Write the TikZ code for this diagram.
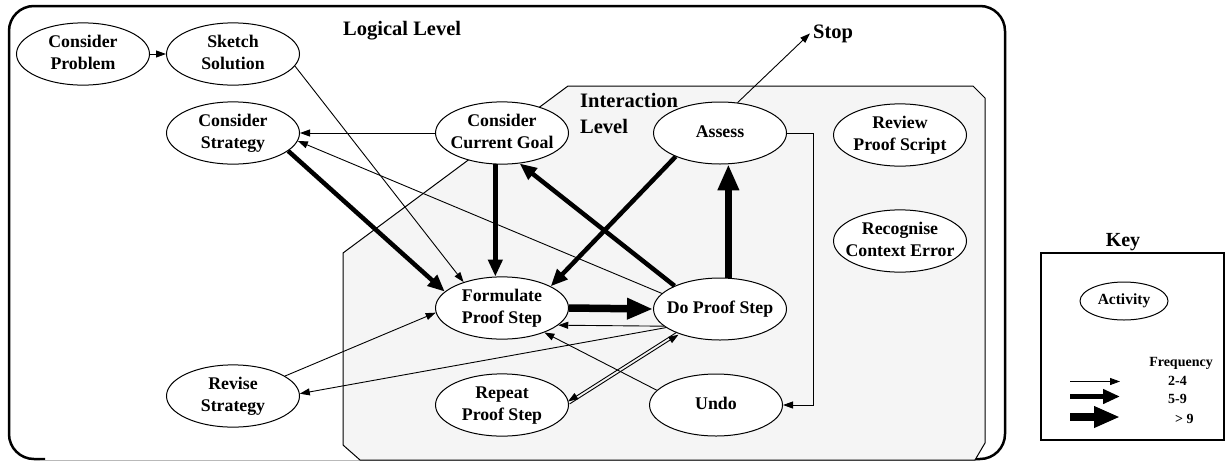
\documentclass[tikz,border=0pt]{standalone}
\usepackage{fontspec}
\setmainfont{Liberation Serif}
\usetikzlibrary{shapes.geometric,arrows.meta}
\newcommand{\nl}[1]{\makebox[0pt]{\begin{tabular}{@{}c@{}}#1\end{tabular}}}
\begin{document}
\begin{tikzpicture}[x=1pt,y=-1pt,
 act/.style={ellipse, draw, line width=1pt, fill=white, minimum width=133pt, minimum height=62pt, inner sep=0pt, font=\fontsize{17.8}{22}\selectfont\bfseries},
 lab/.style={font=\fontsize{20.5}{26}\selectfont\bfseries, inner sep=0pt},
 keytext/.style={font=\fontsize{14}{17}\selectfont\bfseries, inner sep=0pt},
 f1/.style={line width=0.9pt, -{Triangle[length=10pt,width=7pt]}},
 f2/.style={line width=4.5pt, -{Triangle[length=17pt,width=14pt]}},
 f3/.style={line width=7.5pt, -{Triangle[length=26pt,width=20pt]}},
]
\useasboundingbox (0,0) rectangle (1225,461);
% outer frame (Logical Level)
\draw[line width=2.5pt, rounded corners=25pt] (45,459) -- (9,459) -- (9,6) -- (1005,6) -- (1005,459) -- (970,459);
\draw[gray!55, line width=1pt] (40,460) -- (975,460);
% interaction level
\draw[line width=1pt, fill=black!4] (568,86) -- (973,86) -- (985,98) -- (985,443) -- (975,460) -- (360,460) -- (343,445) -- (343,253) -- cycle;
\node[lab, anchor=base west] (ll) at (343,35) {Logical Level};
\node[lab, anchor=north west, align=left] (il) at (580,93) {Interaction\\Level};
\node[lab, anchor=base west, inner sep=3pt] (stop) at (810,38) {Stop};

% activities
\node[act] (cp) at (83,54) {\nl{Consider\\Problem}};
\node[act] (ss) at (233,54) {\nl{Sketch\\Solution}};
\node[act] (cs) at (233,133) {\nl{Consider\\Strategy}};
\node[act] (ccg) at (502,133) {\nl{Consider\\Current Goal}};
\node[act] (as) at (720,133) {\nl{Assess}};
\node[act] (rps) at (900,135) {\nl{Review\\Proof Script}};
\node[act] (rce) at (900,241) {\nl{Recognise\\Context Error}};
\node[act] (fps) at (502,308) {\nl{Formulate\\Proof Step}};
\node[act] (dps) at (720,309) {\nl{Do Proof Step}};
\node[act] (rs) at (233,396) {\nl{Revise\\Strategy}};
\node[act] (rep) at (502,405) {\nl{Repeat\\Proof Step}};
\node[act] (undo) at (716,405) {\nl{Undo}};

% connectors
\draw[f1] (cp) -- (ss);
\draw[f1] (ss.-11) -- (fps.146);
\draw[f1] (ccg.west) -- (cs.east);
\draw[f1] (dps.165) -- (cs.-7);
\draw[f2] (cs.-18) -- (fps.164);
\draw[f2] (ccg.-102) -- (fps.102);
\draw[f2] (as.-152) -- (fps.24);
\draw[f2] (dps.153) -- (ccg.-60);
\draw[f3] (dps.75) -- (as.-75);
\draw[f3] (fps.east) -- (dps.west);
\draw[f1] (dps.-163) -- (fps.-17);
\draw[f1] (dps.-161) -- (rs.2);
\draw[f1] (rs.21) -- (fps.184);
\draw[f1] (undo.166) -- (fps.-30);
\draw[f1] ([shift={(0.8,1.25)}]rep.2) -- ([shift={(0.8,1.25)}]dps.-150);
\draw[f1] ([shift={(-0.8,-1.25)}]dps.-150) -- ([shift={(-0.8,-1.25)}]rep.2);
\draw[f1] (as.east) -- ++(26,0) |- (undo.east);
\draw[f1] (as.60) -- (stop.west);

% key
\node[lab, font=\fontsize{20}{24}\selectfont\bfseries, anchor=base] (key) at (1123,246) {Key};
\draw[line width=1.2pt] (1041,253) rectangle (1224,440);
\node[act, minimum width=88pt, minimum height=38pt, font=\fontsize{15.5}{19}\selectfont\bfseries] (ka) at (1124,301) {\nl{Activity}};
\node[keytext, anchor=base] (freq) at (1181,366) {Frequency};
\node[keytext, anchor=base west] (k1) at (1168,385) {2-4};
\node[keytext, anchor=base west] (k2) at (1168,403) {5-9};
\node[keytext, anchor=base west] (k3) at (1175,423) {> 9};
\coordinate (a1s) at (1070,381.5); \coordinate (a1e) at (1120,381.5);
\coordinate (a2s) at (1070,396.5); \coordinate (a2e) at (1120,396.5);
\coordinate (a3s) at (1070,417); \coordinate (a3e) at (1120,417);
\draw[f1] (a1s) -- (a1e);
\draw[f2] (a2s) -- (a2e);
\draw[f3] (a3s) -- (a3e);
\end{tikzpicture}
\end{document}
